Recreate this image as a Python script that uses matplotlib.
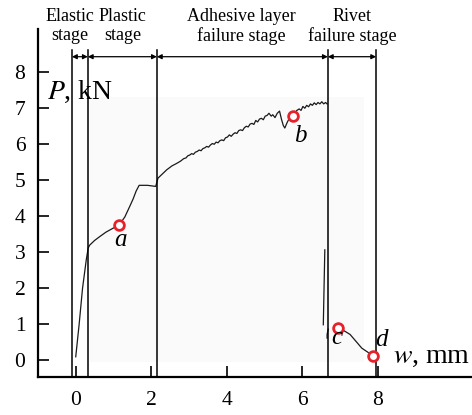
import matplotlib
matplotlib.use("Agg")
import matplotlib.pyplot as plt
from matplotlib.patches import Rectangle

plt.rcParams['font.family'] = ['Liberation Serif', 'DejaVu Serif']
plt.rcParams['mathtext.fontset'] = 'stix'

# main load-displacement curve (w in mm, P in kN)
w_main = [0.00, 0.09, 0.18, 0.28, 0.33, 0.37, 0.50, 0.64, 0.80, 0.99, 1.15, 1.30, 1.42, 1.52, 1.60, 1.68,
          1.90, 2.12, 2.15, 2.18, 2.30, 2.41, 2.55, 2.66, 2.76,
          2.80, 2.86, 2.92, 2.97, 3.02, 3.07, 3.12, 3.17, 3.22, 3.27, 3.32, 3.37, 3.42, 3.47, 3.52,
          3.57, 3.62, 3.67, 3.72, 3.77, 3.82, 3.87, 3.92, 3.97, 4.02, 4.07, 4.12, 4.17, 4.22, 4.27,
          4.32, 4.37, 4.42, 4.47, 4.52, 4.57, 4.62, 4.67, 4.72, 4.77, 4.82, 4.87, 4.92, 4.97, 5.02,
          5.07, 5.12, 5.18, 5.22, 5.28, 5.34, 5.40, 5.45, 5.50, 5.54, 5.60, 5.66, 5.72, 5.80, 5.86,
          5.92, 5.97, 6.02, 6.07, 6.12, 6.17, 6.22, 6.27, 6.32, 6.37, 6.42, 6.47, 6.52, 6.57, 6.62, 6.66]
P_main = [0.10, 1.00, 2.00, 2.80, 3.12, 3.20, 3.33, 3.44, 3.56, 3.67, 3.76, 3.98, 4.25, 4.48, 4.70, 4.86,
          4.86, 4.83, 4.95, 5.06, 5.18, 5.29, 5.40, 5.46, 5.52,
          5.55, 5.60, 5.62, 5.68, 5.70, 5.74, 5.72, 5.78, 5.80, 5.84, 5.82, 5.88, 5.90, 5.94, 5.92,
          5.98, 6.02, 6.00, 6.06, 6.04, 6.10, 6.12, 6.10, 6.18, 6.20, 6.26, 6.22, 6.28, 6.32, 6.30,
          6.38, 6.40, 6.38, 6.46, 6.50, 6.48, 6.56, 6.58, 6.55, 6.66, 6.62, 6.70, 6.72, 6.68, 6.78,
          6.80, 6.86, 6.78, 6.82, 6.74, 6.86, 6.92, 6.70, 6.52, 6.45, 6.60, 6.72, 6.80, 6.86, 6.94,
          6.98, 6.94, 7.05, 7.00, 7.08, 7.04, 7.12, 7.08, 7.15, 7.10, 7.16, 7.12, 7.18, 7.12, 7.16, 7.12]

# drop segment and post-failure segments
w_drop = [6.60, 6.56]
P_drop = [3.07, 0.99]
w_hook = [6.69, 6.66, 6.66]
P_hook = [0.87, 0.72, 0.62]
w_tail = [6.96, 7.10, 7.27, 7.45, 7.58, 7.75, 7.87]
P_tail = [0.89, 0.83, 0.72, 0.50, 0.34, 0.22, 0.13]

# marked points
pt_labels = ['a', 'b', 'c', 'd']
pt_w = [1.15, 5.76, 6.96, 7.87]
pt_P = [3.76, 6.79, 0.89, 0.13]

# stage boundaries and names
boundaries = [-0.10, 0.32, 2.15, 6.68, 7.96]
stage_names = ['Elastic\nstage', 'Plastic\nstage', 'Adhesive layer\nfailure stage', 'Rivet\nfailure stage']
stage_x = [-0.16, 1.25, 4.40, 7.32]

x_ticks = [0, 2, 4, 6, 8]
y_ticks = [0, 1, 2, 3, 4, 5, 6, 7, 8]

fig = plt.figure(figsize=(4.72, 4.15), dpi=100)
ax = fig.add_axes([0.0805, 0.0916, 0.9195, 0.8386])
ax.set_xlim(-1.0, 10.5)
ax.set_ylim(-0.46, 9.2)

ax.add_patch(Rectangle((0.37, -0.05), 7.28, 7.35, facecolor='#fafafa', edgecolor='none', zorder=0))

lc = '#1a1a1a'
ax.plot(w_main, P_main, color=lc, lw=0.9, zorder=3)
ax.plot(w_drop, P_drop, color=lc, lw=0.9, zorder=3)
ax.plot(w_hook, P_hook, color=lc, lw=0.9, zorder=3)
ax.plot(w_tail, P_tail, color=lc, lw=0.9, zorder=3)

ax.plot(pt_w, pt_P, linestyle='none', marker='o', markersize=7, markerfacecolor='white',
        markeredgecolor='#e8202a', markeredgewidth=2.0, zorder=5)

lab_off = [(0.04, -0.42), (0.18, -0.55), (-0.04, -0.28), (0.23, 0.44)]
for lab, x, y, (dx, dy) in zip(pt_labels, pt_w, pt_P, lab_off):
    ax.text(x + dx, y + dy, lab, fontsize=18, style='italic', ha='center', va='center', zorder=6)

top = 8.62
for b in boundaries:
    ax.plot([b, b], [-0.46, top], color='black', lw=1.1, zorder=4, clip_on=False)

arrow_y = 8.43
for x0, x1 in zip(boundaries[:-1], boundaries[1:]):
    ax.annotate('', xy=(x1, arrow_y), xytext=(x0, arrow_y),
                arrowprops=dict(arrowstyle='<|-|>', color='black', lw=0.9,
                                mutation_scale=7, shrinkA=0, shrinkB=0),
                annotation_clip=False, zorder=4)

for name, x in zip(stage_names, stage_x):
    ax.text(x, 9.27, name, fontsize=13, ha='center', va='center', linespacing=1.15, clip_on=False)

ax.text(-0.77, 7.46, r'$P$, kN', fontsize=20, ha='left', va='center')
ax.text(8.4, 0.12, r'$w$, mm', fontsize=20, ha='left', va='center')

for s in ['top', 'right']:
    ax.spines[s].set_visible(False)
for s in ['left', 'bottom']:
    ax.spines[s].set_linewidth(1.6)

ax.set_xticks(x_ticks)
ax.set_yticks(y_ticks)
ax.tick_params(axis='both', direction='in', length=8, width=1.2, labelsize=15.5)
ax.tick_params(axis='x', pad=10)
ax.tick_params(axis='y', pad=9)

fig.savefig('out.png', dpi=100)
